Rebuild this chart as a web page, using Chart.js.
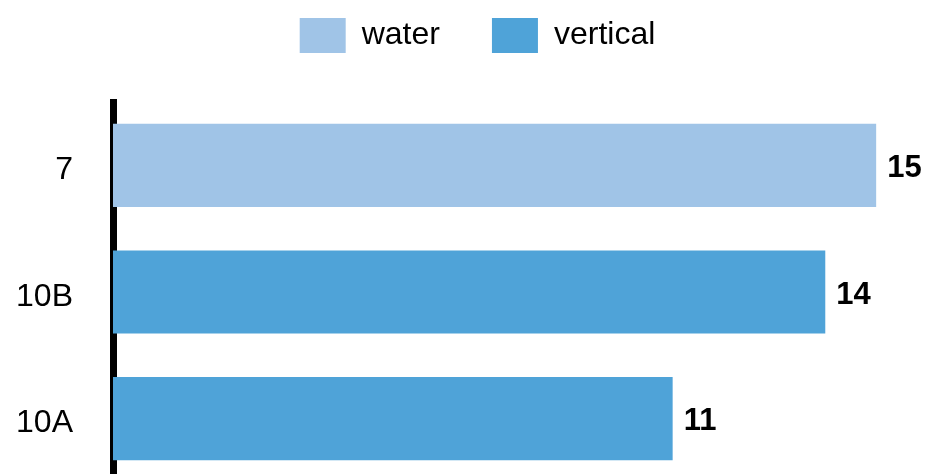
<!DOCTYPE html>
<html>
<head>
<meta charset="utf-8">
<script src="https://cdn.jsdelivr.net/npm/chart.js@4/dist/chart.umd.min.js"></script>
<style>
  html, body { margin: 0; padding: 0; background: #fff; overflow: hidden; }
  #wrap { width: 925px; height: 474px; overflow: hidden; }
</style>
</head>
<body>
<div id="wrap"><canvas id="barChart" width="925" height="482"></canvas></div>
<script>
const categories = ['7', '10B', '10A'];
const waterValues = [15, null, null];
const verticalValues = [null, 14, 11];

const FONT = '"Liberation Sans", Arial, sans-serif';

// value labels at the end of each bar
const valueLabels = {
    id: 'valueLabels',
    afterDatasetsDraw(chart) {
        const ctx = chart.ctx;
        ctx.save();
        ctx.font = 'bold 31px ' + FONT;
        ctx.fillStyle = '#000';
        ctx.textAlign = 'left';
        ctx.textBaseline = 'middle';
        chart.data.datasets.forEach(function(ds, i) {
            chart.getDatasetMeta(i).data.forEach(function(bar, j) {
                const v = ds.data[j];
                if (v === null || v === undefined) return;
                ctx.fillText(String(v), bar.x + 11, bar.y + 3);
            });
        });
        ctx.restore();
    }
};

// fixed legend height so the plot starts lower
const legendGap = {
    id: 'legendGap',
    beforeInit(chart) {
        const fit = chart.legend.fit;
        chart.legend.fit = function() {
            fit.bind(this)();
            this.height = 136;
        };
    }
};

document.addEventListener('DOMContentLoaded', function() {
    const ctx = document.getElementById('barChart').getContext('2d');

    new Chart(ctx, {
        type: 'bar',
        data: {
            labels: categories,
            datasets: [
                {
                    label: 'water',
                    data: waterValues,
                    backgroundColor: '#a0c4e7',
                    barPercentage: 0.656,
                    categoryPercentage: 1
                },
                {
                    label: 'vertical',
                    data: verticalValues,
                    backgroundColor: '#4fa3d8',
                    barPercentage: 0.656,
                    categoryPercentage: 1
                }
            ]
        },
        plugins: [valueLabels, legendGap],
        options: {
            indexAxis: 'y',
            responsive: false,
            animation: false,
            layout: {
                padding: { top: -34, right: -30, bottom: 0, left: 0 }
            },
            scales: {
                x: {
                    display: false,
                    min: 0,
                    max: 15.96
                },
                y: {
                    stacked: true,
                    grid: { display: false, drawTicks: false },
                    border: { display: true, color: '#000', width: 7 },
                    ticks: {
                        color: '#000',
                        padding: 40,
                        labelOffset: 5,
                        font: { family: FONT, size: 32 }
                    },
                    afterFit: function(scale) {
                        scale.width = 113;
                        scale.paddingTop = 0;
                        scale.paddingBottom = 0;
                    }
                }
            },
            plugins: {
                legend: {
                    position: 'top',
                    labels: {
                        color: '#000',
                        boxWidth: 46,
                        boxHeight: 35,
                        padding: 52,
                        font: { family: FONT, size: 32 }
                    }
                },
                tooltip: { enabled: false }
            }
        }
    });
});
</script>
</body>
</html>
